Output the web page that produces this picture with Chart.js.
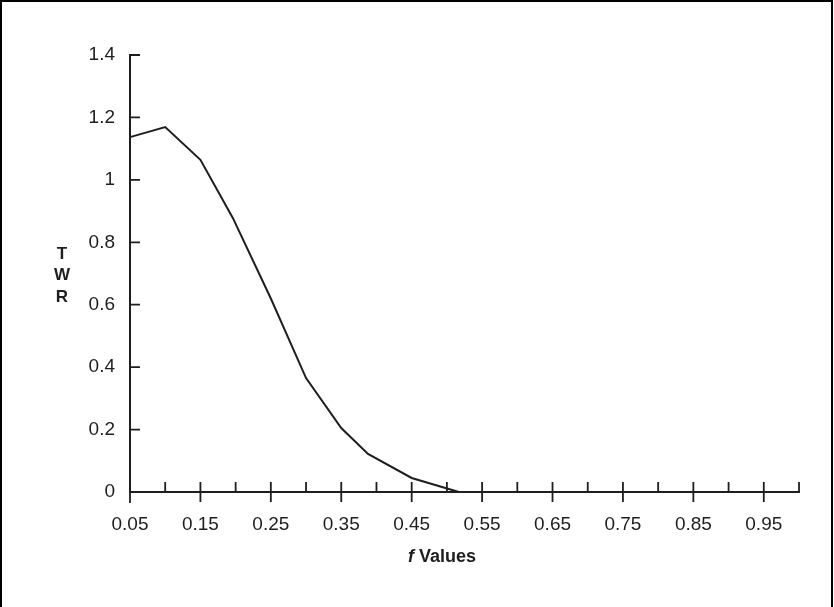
<!DOCTYPE html>
<html>
<head>
<meta charset="utf-8">
<script src="https://cdn.jsdelivr.net/npm/chart.js@4"></script>
<style>
  html, body { margin: 0; padding: 0; background: #fff; }
  #wrap { width: 834px; height: 607px; position: relative; }
</style>
</head>
<body>
<div id="wrap"><canvas id="myChart"></canvas></div>
<script>
// f values and TWR
const fValues = [0.05, 0.10, 0.15, 0.196, 0.25, 0.30, 0.35, 0.388, 0.45, 0.517];
const twr = [1.137, 1.169, 1.064, 0.878, 0.62, 0.365, 0.205, 0.122, 0.045, 0];
const yTicks = [0, 0.2, 0.4, 0.6, 0.8, 1, 1.2, 1.4];
const xLabelValues = [0.05, 0.15, 0.25, 0.35, 0.45, 0.55, 0.65, 0.75, 0.85, 0.95];

const FONT = "'Liberation Sans', Arial, sans-serif";
const INK = '#1e1e1e';

const points = fValues.map((f, i) => ({ x: f, y: twr[i] }));

// draws the short tick marks, the frame and the axis titles
const decorations = {
    id: 'decorations',
    afterDraw(chart) {
        const c = chart.ctx;
        const xs = chart.scales.x, ys = chart.scales.y;
        const left = chart.chartArea.left, bottom = chart.chartArea.bottom;
        c.save();
        c.strokeStyle = INK;
        c.lineWidth = 1.8;
        c.beginPath();
        yTicks.forEach(v => {
            const py = ys.getPixelForValue(v);
            if (v === 0) return;
            c.moveTo(left, py);
            c.lineTo(left + 10, py);
        });
        xs.ticks.forEach(t => {
            const px = xs.getPixelForValue(t.value);
            const major = xLabelValues.some(v => Math.abs(v - t.value) < 1e-6);
            if (Math.abs(t.value - 0.05) < 1e-6) {
                c.moveTo(px, bottom);
                c.lineTo(px, bottom + 11);
            } else if (major) {
                c.moveTo(px, bottom - 10);
                c.lineTo(px, bottom + 10);
            } else {
                c.moveTo(px, bottom - 10);
                c.lineTo(px, bottom);
            }
        });
        c.stroke();

        // frame (top, left, right)
        c.strokeStyle = '#000';
        c.lineWidth = 2;
        c.beginPath();
        c.moveTo(1, 607);
        c.lineTo(1, 1);
        c.lineTo(832, 1);
        c.lineTo(832, 607);
        c.stroke();

        // axis titles
        c.fillStyle = INK;
        c.textAlign = 'center';
        c.textBaseline = 'middle';
        c.font = 'bold 17px ' + FONT;
        ['T', 'W', 'R'].forEach((ch, i) => c.fillText(ch, 62, 254 + i * 21.5));

        c.font = 'bold 18px ' + FONT;
        const rest = ' Values';
        const restW = c.measureText(rest).width;
        c.font = 'italic bold 18px ' + FONT;
        const fW = c.measureText('f').width;
        const startX = 442 - (fW + restW) / 2;
        c.textAlign = 'left';
        c.fillText('f', startX, 557);
        c.font = 'bold 18px ' + FONT;
        c.fillText(rest, startX + fW, 557);
        c.restore();
    }
};

new Chart(document.getElementById('myChart').getContext('2d'), {
    type: 'scatter',
    data: {
        datasets: [{
            label: 'TWR',
            data: points,
            showLine: true,
            borderColor: INK,
            borderWidth: 2,
            pointRadius: 0,
            tension: 0,
            clip: false
        }]
    },
    options: {
        responsive: true,
        maintainAspectRatio: false,
        animation: false,
        layout: { padding: { left: 0, right: 35, top: 55, bottom: 55 } },
        plugins: {
            legend: { display: false },
            tooltip: { enabled: false }
        },
        scales: {
            x: {
                type: 'linear',
                min: 0.05,
                max: 1.0,
                afterFit(scale) { scale.height = 60; },
                afterBuildTicks(scale) {
                    const ticks = [];
                    for (let i = 1; i <= 20; i++) ticks.push({ value: Math.round(i * 5) / 100 });
                    scale.ticks = ticks;
                },
                ticks: {
                    autoSkip: false,
                    maxRotation: 0,
                    padding: 13,
                    color: INK,
                    font: { family: FONT, size: 19 },
                    callback: v => xLabelValues.some(x => Math.abs(x - v) < 1e-6) ? v.toFixed(2) : ''
                },
                grid: { display: false },
                border: { display: true, color: INK, width: 2 }
            },
            y: {
                min: 0,
                max: 1.4,
                afterFit(scale) { scale.width = 130; },
                afterBuildTicks(scale) {
                    scale.ticks = yTicks.map(v => ({ value: v }));
                },
                ticks: {
                    padding: 7,
                    color: INK,
                    font: { family: FONT, size: 19 },
                    callback: v => String(Math.round(v * 10) / 10)
                },
                grid: { display: false },
                border: { display: true, color: INK, width: 2 }
            }
        }
    },
    plugins: [decorations]
});
</script>
</body>
</html>
